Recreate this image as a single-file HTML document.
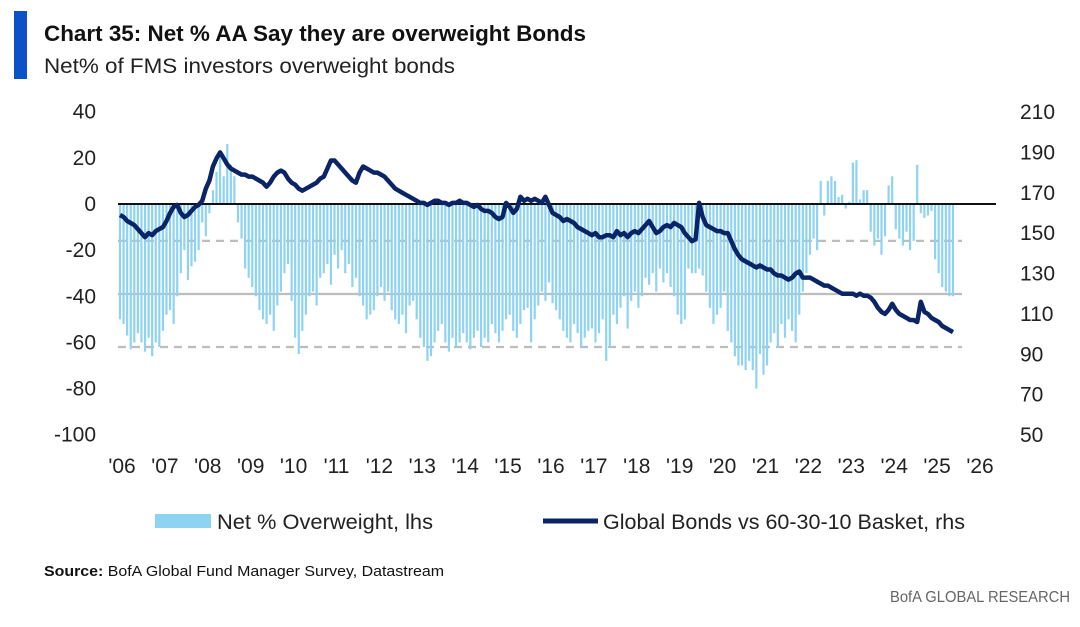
<!DOCTYPE html>
<html><head><meta charset="utf-8"><style>
html,body{margin:0;padding:0;background:#fff;}
svg{display:block;font-family:"Liberation Sans",sans-serif;}
</style></head><body>
<svg id="chart" width="1080" height="627" viewBox="0 0 1080 627">
<rect x="14" y="11" width="13" height="68" fill="#0b52c9"/>
<text x="44" y="41" font-size="22" font-weight="bold" fill="#111" textLength="542" lengthAdjust="spacingAndGlyphs">Chart 35: Net % AA Say they are overweight Bonds</text>
<text x="44" y="73" font-size="21" fill="#222" textLength="411" lengthAdjust="spacingAndGlyphs">Net% of FMS investors overweight bonds</text>
<g id="grid"></g>
<g id="bars"></g>
<line x1="118" y1="204" x2="996" y2="204" stroke="#111" stroke-width="2"/>
<path id="line" fill="none" stroke="#0a2466" stroke-width="4.5" stroke-linejoin="round"/>
<g id="axes" font-size="21" fill="#222"></g>
<g>
<rect x="155" y="514" width="56" height="14" fill="#8fd3f2"/>
<text x="217" y="529" font-size="21" fill="#222" textLength="216" lengthAdjust="spacingAndGlyphs">Net % Overweight, lhs</text>
<line x1="543" y1="521" x2="598" y2="521" stroke="#0a2466" stroke-width="5"/>
<text x="603" y="529" font-size="21" fill="#222" textLength="362" lengthAdjust="spacingAndGlyphs">Global Bonds vs 60-30-10 Basket, rhs</text>
</g>
<text x="44" y="576" font-size="15" fill="#111" textLength="400" lengthAdjust="spacingAndGlyphs"><tspan font-weight="bold">Source:</tspan> BofA Global Fund Manager Survey, Datastream</text>
<text x="1070" y="602" font-size="16" fill="#666" text-anchor="end" textLength="180" lengthAdjust="spacingAndGlyphs">BofA GLOBAL RESEARCH</text>
</svg>
<script>
const yearLabels = ["'06","'07","'08","'09","'10","'11","'12","'13","'14","'15","'16","'17","'18","'19","'20","'21","'22","'23","'24","'25","'26"];
const leftTicks = [40,20,0,-20,-40,-60,-80,-100];
const rightTicks = [210,190,170,150,130,110,90,70,50];
const refLevels = [-16,-39,-62];
const netOverweight = [
-50,-52,-57,-63,-60,-56,-60,-64,-58,-66,-60,-62,
-55,-48,-46,-52,-40,-30,-20,-33,-27,-25,-20,-8,
-14,-4,6,14,22,12,26,17,12,-8,-15,-28,
-32,-36,-40,-46,-50,-52,-48,-55,-44,-38,-30,-26,
-42,-58,-65,-55,-48,-40,-38,-44,-32,-30,-26,-35,
-22,-28,-20,-30,-26,-36,-32,-40,-44,-50,-48,-46,
-40,-36,-42,-38,-46,-50,-52,-48,-56,-44,-42,-50,
-58,-62,-68,-66,-60,-55,-52,-60,-64,-58,-62,-60,
-56,-60,-63,-58,-55,-62,-58,-60,-52,-56,-60,-55,
-50,-48,-55,-58,-52,-46,-45,-60,-50,-44,-38,-42,
-34,-43,-46,-50,-55,-58,-60,-52,-56,-62,-58,-55,
-54,-60,-56,-50,-68,-62,-48,-52,-45,-40,-54,-42,
-38,-45,-40,-32,-35,-30,-38,-28,-34,-30,-36,-40,
-48,-52,-50,-28,-30,-30,-28,-31,-38,-45,-52,-48,
-45,-38,-55,-60,-66,-70,-70,-72,-68,-72,-80,-65,
-74,-70,-60,-56,-62,-52,-58,-50,-55,-60,-48,-38,
-30,-22,-15,-20,10,-5,10,12,10,3,4,-2,
1,18,19,2,6,6,-12,-18,-15,-22,-14,8,
12,-11,-15,-18,-12,-20,-16,17,-4,-6,-5,-3,
-24,-30,-36,-38,-40,-40];
const bondsVsBasket = [
159,158,156,155,154,152,150,148,150,149,151,152,
153,156,160,163,164,160,158,159,161,163,164,166,
172,176,183,187,190,187,184,182,181,180,179,179,
178,178,177,176,175,173,175,178,180,181,180,177,
175,174,172,171,172,173,174,175,177,178,182,186,
186,184,182,180,178,176,175,180,183,182,181,180,
180,179,178,176,174,172,171,170,169,168,167,166,
165,165,164,165,166,166,165,165,164,165,165,166,
165,165,164,163,164,162,161,161,160,158,157,158,
165,163,160,162,168,166,167,166,167,166,165,168,
164,160,159,158,156,157,156,155,153,152,151,150,
149,150,148,148,149,149,148,151,149,150,148,150,
151,150,152,154,156,153,150,151,153,154,153,155,
154,153,150,148,146,147,165,158,154,153,152,151,
151,150,150,146,142,139,137,136,135,134,133,134,
133,132,132,130,129,129,128,127,128,130,131,128,
128,128,127,126,125,124,124,123,122,121,120,120,
120,120,119,120,119,119,118,116,113,111,110,112,
115,112,110,109,108,107,107,106,116,111,110,108,
107,106,104,103,102,101];

const NS="http://www.w3.org/2000/svg";
const xOf = m => 120 + m*(42.9/12);
const yL = v => 204 - v*2.307;
const yR = v => 112 + (210-v)*2.019;
function mk(tag, attrs, parent){const e=document.createElementNS(NS,tag);for(const k in attrs)e.setAttribute(k,attrs[k]);parent.appendChild(e);return e;}

const grid=document.getElementById('grid');
refLevels.forEach((v,i)=>{
  const l=mk('line',{x1:118,x2:962,y1:yL(v),y2:yL(v),stroke:'#bdbdbd','stroke-width':2.2},grid);
  if(i!==1) l.setAttribute('stroke-dasharray','8,6');
  
  
});

const bars=document.getElementById('bars');
netOverweight.forEach((v,i)=>{
  const y0=yL(0), y1=yL(v);
  const r=mk('rect',{x:xOf(i)-1.1,width:2.2,y:Math.min(y0,y1),height:Math.abs(y1-y0),fill:'#8fd3f2'},bars);
  
  
});

document.getElementById('line').setAttribute('d', bondsVsBasket.map((v,i)=>(i?'L':'M')+xOf(i).toFixed(1)+','+yR(v).toFixed(1)).join(''));

const axes=document.getElementById('axes');
leftTicks.forEach(v=>{
  const t=mk('text',{x:96,y:yL(v)+7,'text-anchor':'end'},axes);t.textContent=v;
  
  
});
rightTicks.forEach(v=>{
  const t=mk('text',{x:1020,y:yR(v)+7},axes);t.textContent=v;
  
  
});
yearLabels.forEach((s,i)=>{
  const t=mk('text',{x:xOf(i*12)+2,y:473,'text-anchor':'middle'},axes);t.textContent=s;
  
  
});
</script>
</body></html>
